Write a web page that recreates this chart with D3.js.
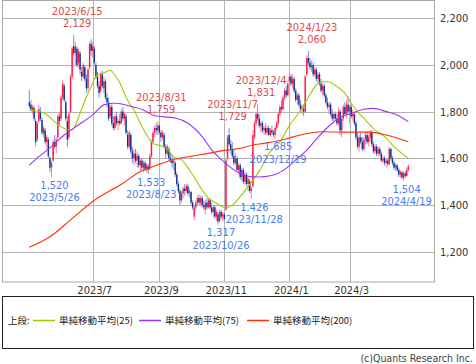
<!DOCTYPE html>
<html><head><meta charset="utf-8">
<script src="https://cdn.jsdelivr.net/npm/d3@7"></script>
<style>
html,body{margin:0;padding:0;background:#fff;}
svg{display:block;}
</style></head><body>
<svg id="c" width="476" height="364"></svg>
<script>
// ---- data (trading-day index 0 = 2023/5/8, 239 = 2024/4/24) ----
const open=[1840,1830,1805,1815,1760,1680,1760,1800,1765,1705,
 1720,1670,1680,1600,1560,1590,1670,1650,1690,1780,
 1770,1860,1910,1840,1760,1690,1800,1950,2080,2050,
 2070,2010,2050,1970,1950,1990,1940,1900,1990,2090,
 2060,2070,2000,1950,1910,1890,1960,1900,1930,1860,
 1840,1780,1820,1750,1730,1780,1750,1760,1750,1800,
 1770,1780,1700,1650,1700,1630,1600,1620,1590,1610,
 1570,1590,1560,1580,1555,1565,1555,1610,1670,1710,
 1730,1720,1740,1710,1690,1700,1650,1620,1640,1600,
 1590,1580,1580,1530,1490,1460,1420,1450,1470,1460,
 1480,1450,1455,1410,1350,1390,1410,1430,1410,1430,
 1400,1380,1410,1390,1420,1390,1370,1390,1350,1360,
 1330,1370,1350,1360,1380,1600,1700,1660,1640,1610,
 1580,1600,1550,1570,1520,1550,1500,1530,1490,1500,
 1460,1480,1690,1750,1790,1770,1740,1750,1720,1730,
 1710,1730,1700,1720,1710,1700,1730,1750,1790,1820,
 1810,1860,1890,1870,1930,1950,1920,1940,1890,1850,
 1870,1830,1810,1810,1800,1960,2030,2010,1990,2000,
 1960,1980,1940,1960,1920,1890,1910,1870,1840,1820,
 1830,1790,1770,1790,1770,1750,1800,1720,1770,1820,
 1790,1830,1800,1820,1780,1790,1750,1690,1650,1690,
 1670,1640,1680,1700,1670,1690,1710,1660,1630,1650,
 1620,1640,1620,1590,1600,1580,1590,1575,1640,1600,
 1580,1560,1570,1550,1530,1540,1515,1535,1525,1550];
const high=[1893,1850,1830,1825,1770,1760,1830,1820,1775,1740,
 1730,1700,1690,1610,1590,1680,1700,1690,1790,1800,
 1870,1935,1920,1850,1780,1800,1960,2080,2129,2100,
 2080,2070,2060,1990,2010,2000,1960,1990,2100,2110,
 2100,2080,2010,1970,1930,1970,1975,1950,1940,1880,
 1860,1830,1830,1780,1790,1800,1770,1790,1810,1820,
 1800,1790,1720,1720,1710,1650,1640,1640,1630,1620,
 1600,1600,1590,1590,1580,1575,1620,1680,1720,1740,
 1750,1759,1750,1720,1720,1710,1660,1660,1650,1620,
 1610,1600,1590,1540,1500,1470,1460,1480,1490,1490,
 1490,1470,1460,1420,1400,1420,1440,1445,1440,1440,
 1420,1420,1430,1430,1430,1410,1400,1400,1380,1370,
 1380,1380,1370,1370,1600,1700,1729,1680,1670,1640,
 1620,1610,1580,1580,1560,1560,1540,1540,1520,1510,
 1480,1720,1760,1800,1831,1790,1760,1760,1740,1750,
 1740,1740,1730,1740,1720,1740,1760,1800,1830,1850,
 1870,1900,1910,1930,1965,1960,1960,1950,1900,1880,
 1880,1850,1830,1830,1960,2040,2060,2030,2020,2010,
 1990,1990,1970,1970,1940,1920,1920,1880,1860,1840,
 1840,1810,1800,1800,1790,1820,1810,1780,1830,1840,
 1850,1865,1830,1830,1810,1800,1760,1710,1700,1710,
 1690,1690,1710,1715,1700,1720,1720,1670,1660,1660,
 1650,1650,1630,1610,1610,1600,1600,1650,1645,1610,
 1590,1580,1575,1560,1550,1545,1545,1545,1560,1575];
const low=[1815,1800,1790,1760,1650,1670,1750,1760,1700,1690,
 1660,1640,1600,1540,1520,1585,1640,1620,1680,1740,
 1760,1850,1840,1760,1650,1680,1790,1940,2040,2000,
 1990,1990,1960,1930,1940,1930,1880,1890,1980,2040,
 2030,2000,1940,1900,1860,1880,1900,1880,1850,1820,
 1760,1770,1740,1720,1720,1740,1720,1740,1745,1760,
 1740,1700,1640,1640,1620,1580,1570,1580,1560,1560,
 1545,1550,1540,1545,1540,1533,1550,1600,1660,1690,
 1700,1700,1700,1670,1680,1640,1600,1610,1590,1580,
 1560,1550,1520,1480,1450,1400,1410,1430,1440,1450,
 1440,1430,1400,1380,1335,1380,1400,1400,1395,1390,
 1380,1360,1380,1385,1380,1360,1350,1340,1330,1317,
 1325,1340,1330,1330,1375,1590,1650,1620,1600,1570,
 1570,1540,1530,1510,1500,1490,1490,1480,1460,1450,
 1426,1475,1680,1740,1760,1730,1710,1710,1700,1700,
 1700,1695,1690,1700,1690,1685,1720,1740,1780,1800,
 1805,1850,1860,1865,1900,1910,1900,1880,1840,1830,
 1820,1800,1790,1780,1795,1950,2000,1980,1970,1950,
 1950,1930,1920,1910,1880,1870,1860,1830,1810,1790,
 1780,1760,1750,1760,1740,1740,1700,1690,1760,1780,
 1770,1790,1750,1770,1760,1740,1680,1640,1630,1660,
 1630,1630,1660,1660,1650,1670,1650,1620,1620,1610,
 1610,1610,1585,1580,1570,1560,1570,1570,1590,1570,
 1550,1545,1540,1520,1515,1510,1504,1515,1520,1545];
const close=[1825,1810,1820,1770,1670,1750,1810,1770,1710,1730,
 1670,1690,1610,1560,1580,1670,1650,1680,1780,1760,
 1860,1920,1850,1770,1680,1790,1950,2070,2050,2080,
 2000,2060,1980,1950,2000,1940,1900,1980,2090,2060,
 2080,2010,1950,1910,1880,1960,1910,1930,1860,1840,
 1770,1820,1750,1730,1780,1750,1760,1750,1800,1770,
 1790,1710,1650,1710,1630,1600,1620,1590,1610,1570,
 1590,1560,1580,1555,1570,1550,1610,1670,1710,1730,
 1720,1740,1710,1690,1710,1650,1620,1650,1600,1590,
 1580,1590,1530,1490,1460,1420,1450,1470,1460,1480,
 1450,1460,1410,1390,1390,1410,1430,1410,1430,1400,
 1390,1410,1390,1420,1390,1370,1390,1350,1370,1330,
 1370,1350,1360,1340,1590,1690,1660,1640,1610,1580,
 1600,1550,1570,1520,1550,1500,1530,1490,1510,1460,
 1470,1700,1750,1790,1770,1740,1750,1720,1730,1710,
 1730,1700,1720,1710,1700,1730,1750,1790,1820,1810,
 1860,1890,1870,1920,1950,1920,1940,1890,1850,1870,
 1830,1810,1820,1800,1950,2030,2010,1990,2000,1960,
 1980,1940,1960,1920,1890,1910,1870,1840,1820,1830,
 1790,1770,1790,1770,1750,1800,1720,1770,1820,1790,
 1830,1800,1820,1780,1790,1750,1690,1650,1690,1670,
 1640,1680,1700,1670,1690,1710,1660,1630,1650,1620,
 1640,1620,1590,1600,1580,1590,1575,1640,1600,1580,
 1560,1570,1550,1530,1540,1520,1535,1525,1550,1565];

const ma25Idx=[0,9,19,25,27,32,36,39,42,47,51,55,57,59,61,63,66,70,74,78,81,87,91,96,101,109,113,118,124,129,133,139,145,152,158,164,171,175,181,185,188,194,199,203,207,212,218,224,230,239];
const ma25Val=[1807,1795,1740,1721,1722,1793,1864,1907,1950,1966,1977,1945,1925,1893,1864,1836,1807,1750,1700,1664,1657,1640,1607,1593,1550,1464,1429,1407,1388,1405,1436,1488,1545,1630,1670,1740,1805,1850,1914,1928,1928,1907,1879,1836,1800,1764,1721,1693,1650,1600];
const ma75Idx=[0,6,14,22,31,40,47,53,55,63,72,79,92,100,109,115,121,127,133,139,145,152,162,168,175,182,191,197,202,211,217,225,232,239];
const ma75Val=[1571,1607,1650,1700,1743,1786,1829,1836,1836,1824,1807,1782,1773,1750,1693,1636,1595,1560,1535,1522,1520,1525,1557,1593,1635,1690,1750,1779,1790,1810,1814,1800,1786,1757];
const ma200Idx=[0,13,26,40,59,70,81,90,100,113,122,133,141,148,163,169,185,202,215,225,239];
const ma200Val=[1219,1264,1336,1415,1493,1543,1572,1593,1607,1621,1633,1643,1657,1664,1685,1697,1714,1712,1712,1700,1671];

const yTicks=[1200,1400,1600,1800,2000,2200];
const xTickIdx=[40,82,123,164,202];
const xTickLabels=["2023/7","2023/9","2023/11","2024/1","2024/3"];

const hiIdx=[28,81,126,144,176];
const hiDates=["2023/6/15","2023/8/31","2023/11/7","2023/12/4","2024/1/23"];
const hiVals=[2129,1759,1729,1831,2060];
const loIdx=[14,75,119,140,155,236];
const loDates=["2023/5/26","2023/8/23","2023/10/26","2023/11/28","2023/12/19","2024/4/19"];
const loVals=[1520,1533,1317,1426,1685,1504];

const legendNames=["単純移動平均(25)","単純移動平均(75)","単純移動平均(200)"];
const legendColors=["#99cc00","#9933ff","#ff3300"];

// ---- drawing ----
const svg=d3.select("#c");
const P={l:3,t:1,r:434,b:282};
const x=d3.scaleLinear().domain([-16.6,255.2]).range([P.l,P.r]);
const y=d3.scaleLinear().domain([1070,2274]).range([P.b,P.t]);
const NUMFONT='"Liberation Sans Narrow","DejaVu Sans Condensed","Liberation Sans",sans-serif';
const fmt=d3.format(",");

const g=svg.append("g");
// gridlines
g.selectAll("line.hg").data(yTicks).join("line")
 .attr("x1",P.l).attr("x2",P.r).attr("y1",d=>Math.round(y(d))+0.5).attr("y2",d=>Math.round(y(d))+0.5)
 .attr("stroke","#b4b4b4").attr("stroke-width",1);
g.selectAll("line.vg").data(xTickIdx).join("line")
 .attr("y1",P.t).attr("y2",P.b).attr("x1",d=>Math.round(x(d))+0.5).attr("x2",d=>Math.round(x(d))+0.5)
 .attr("stroke","#b4b4b4").attr("stroke-width",1);
// frame
g.append("rect").attr("x",P.l-0.5).attr("y",P.t-0.5).attr("width",P.r-P.l+1).attr("height",P.b-P.t+0.5)
 .attr("fill","none").attr("stroke","#a8a8a8");

// y axis labels
const ya=svg.append("g").attr("transform",`translate(${P.r},0)`)
 .call(d3.axisRight(y).tickValues(yTicks).tickFormat(fmt).tickSize(0).tickPadding(6));
ya.select(".domain").remove();
ya.selectAll("text").attr("font-family",NUMFONT).attr("font-size",11).attr("fill","#333");

// x axis labels
const xa=svg.append("g").attr("transform",`translate(1.5,${P.b})`)
 .call(d3.axisBottom(x).tickValues(xTickIdx).tickFormat((d,i)=>xTickLabels[i]).tickSize(0).tickPadding(4));
xa.select(".domain").remove();
xa.selectAll("text").attr("font-family",NUMFONT).attr("font-size",11).attr("fill","#333");

// candles
const idx=d3.range(close.length);
const cg=svg.append("g");
cg.selectAll("line.w").data(idx).join("line")
 .attr("x1",i=>x(i)).attr("x2",i=>x(i)).attr("y1",i=>y(high[i])).attr("y2",i=>y(low[i]))
 .attr("stroke",i=>close[i]>=open[i]?"#ff7f99":"#7392d6").attr("stroke-width",1);
cg.selectAll("rect.b").data(idx).join("rect")
 .attr("x",i=>x(i)-0.7).attr("width",1.4)
 .attr("y",i=>y(Math.max(open[i],close[i])))
 .attr("height",i=>Math.max(1,Math.abs(y(open[i])-y(close[i]))))
 .attr("fill",i=>close[i]>=open[i]?"#ff1744":"#12308f");

// moving averages
const line=d3.line().x(d=>x(d[0])).y(d=>y(d[1])).curve(d3.curveMonotoneX);
[[ma25Idx,ma25Val],[ma75Idx,ma75Val],[ma200Idx,ma200Val]].forEach((m,k)=>{
  svg.append("path").datum(m[0].map((v,i)=>[v,m[1][i]])).attr("d",line)
   .attr("fill","none").attr("stroke",legendColors[k]).attr("stroke-width",1.1);
});

// annotations
const ag=svg.append("g").attr("font-family",NUMFONT).attr("font-size",11).attr("text-anchor","middle");
hiIdx.forEach((d,k)=>{
  const cx=x(d)+3.5, cy=y(hiVals[k]);
  ag.append("text").attr("x",cx).attr("y",cy-24+4).attr("fill","#dd4a4a").text(hiDates[k]);
  ag.append("text").attr("x",cx).attr("y",cy-12+4).attr("fill","#dd4a4a").text(fmt(hiVals[k]));
});
loIdx.forEach((d,k)=>{
  const cx=x(d)+3, cy=y(loVals[k]);
  ag.append("text").attr("x",cx).attr("y",cy+8+4).attr("fill","#4a7cf2").text(fmt(loVals[k]));
  ag.append("text").attr("x",cx).attr("y",cy+20.5+4).attr("fill","#4a7cf2").text(loDates[k]);
});

// legend
const lg=svg.append("g");
lg.append("rect").attr("x",2.5).attr("y",296.5).attr("width",471).attr("height",52)
 .attr("fill","none").attr("stroke","#222").attr("stroke-width",1);
const CJK='"Noto Sans CJK JP",sans-serif';
lg.append("text").attr("x",8).attr("y",324).attr("font-family",CJK).attr("font-size",9.5).attr("fill","#222").text("上段:");
const lx=[33,139,247];
legendNames.forEach((n,k)=>{
  lg.append("line").attr("x1",lx[k]).attr("x2",lx[k]+22).attr("y1",320.5).attr("y2",320.5)
   .attr("stroke",legendColors[k]).attr("stroke-width",1.5);
  lg.append("text").attr("x",lx[k]+26).attr("y",324).attr("font-family",CJK).attr("font-size",9.5).attr("fill","#222").text(n);
});

// copyright
svg.append("text").attr("x",473).attr("y",361.5).attr("text-anchor","end")
 .attr("font-family",NUMFONT).attr("font-size",10.5).attr("fill","#444").text("(c)Quants Research Inc.");
</script>
</body></html>
